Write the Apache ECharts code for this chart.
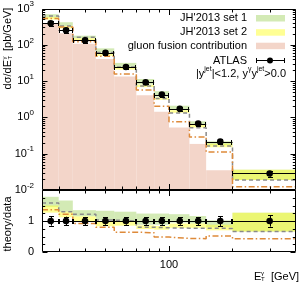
<!DOCTYPE html>
<html><head><meta charset="utf-8">
<script src="https://cdn.jsdelivr.net/npm/echarts@6/dist/echarts.min.js"></script>
<style>html,body{margin:0;padding:0;background:#fff}#c{width:300px;height:282px}</style>
</head><body><div id="c"></div>
<script>
// ---------------- data ----------------
const binEdges   = [25, 30, 35, 45, 55, 70, 85, 100, 125, 150, 200, 400];
const atlasXsec  = [391, 252, 132, 60, 24.4, 9.2, 4.25, 1.72, 0.675, 0.215, 0.0285];
const atlasRelErr= [0.15, 0.14, 0.13, 0.12, 0.12, 0.12, 0.12, 0.12, 0.13, 0.16, 0.18];
const set1RatioHi= [1.78, 1.66, 1.35, 1.33, 1.30, 1.24, 1.24, 1.22, 1.16, 1.02, 1.27];
const set1RatioLo= [1.45, 1.30, 1.15, 1.02, 1.00, 0.88, 0.88, 0.95, 0.92, 0.80, 0.66];
const set2RatioHi= [1.50, 1.30, 1.15, 1.00, 1.00, 0.86, 0.84, 0.92, 0.92, 0.88, 1.27];
const set2RatioLo= [1.27, 1.12, 0.98, 0.83, 0.85, 0.74, 0.72, 0.78, 0.78, 0.70, 0.66];
const grayRatio  = [1.58, 1.30, 1.22, 1.03, 1.00, 0.80, 0.78, 0.77, 0.77, 0.76, 0.66];
const orangeRatio= [1.36, 1.22, 0.92, 0.80, 0.64, 0.62, 0.48, 0.44, 0.43, 0.52, 0.43];
const gluonFusion= [398, 209, 107, 40.5, 13.3, 4.06, 1.43, 0.525, 0.186, 0.035, null];

const xMajorTicks = [100];
const xMinorTicks = [30, 40, 50, 60, 70, 80, 90, 200, 300];
const xLabelValues = [100];
const yMainMajorTicks = [0.01, 0.1, 1, 10, 100, 1000];
const yMainMinorMult = [2, 3, 4, 5, 6, 7, 8, 9];
const yRatioMajorTicks = [0, 1, 2];
const yRatioMinorTicks = [0.25, 0.5, 0.75, 1.25, 1.5, 1.75];
const yRatioLabels = [0, 1];

const X_MIN = 25, X_MAX = 400, Y_MIN = 0.01, Y_MAX = 1000, R_MIN = 0, R_MAX = 2;
const FONT = "'Liberation Sans', Arial, Helvetica, sans-serif";
const GREEN = 'rgba(168, 214, 108, 0.5)';
const YELLOW = 'rgba(255, 255, 60, 0.55)';
const PINK = '#f3d5c9';
const GRAY = '#8a8a8a';
const ORANGE = '#de8a3a';

const yMainMinorTicks = [];
yMainMajorTicks.slice(0, -1).forEach(d => yMainMinorMult.forEach(m => yMainMinorTicks.push(d * m)));

// ---------------- helpers ----------------
const nb = atlasXsec.length;
const centers = atlasXsec.map((_, i) => (binEdges[i] + binEdges[i + 1]) / 2);
const crisp = v => Math.round(v) + 0.5;

function bandData(lo, hi, scale) {
  return lo.map((_, i) => [binEdges[i], binEdges[i + 1], lo[i] * (scale ? scale[i] : 1), hi[i] * (scale ? scale[i] : 1)]);
}
function stepData(vals, scale) {
  const d = vals.map((v, i) => [binEdges[i], v * (scale ? scale[i] : 1)]);
  d.push([binEdges[nb], vals[nb - 1] * (scale ? scale[nb - 1] : 1)]);
  return d;
}
function rectItem(color) {
  return function (params, api) {
    const p0 = api.coord([api.value(0), api.value(3)]);
    const p1 = api.coord([api.value(1), api.value(2)]);
    return { type: 'rect', shape: { x: p0[0], y: p0[1], width: p1[0] - p0[0], height: p1[1] - p0[1] },
             style: { fill: color } };
  };
}
function pointItem(params, api) {
  const xc = api.value(0), y = api.value(1), ylo = api.value(2), yhi = api.value(3), xl = api.value(4), xh = api.value(5);
  const c = api.coord([xc, y]);
  const l = api.coord([xl, y]), h = api.coord([xh, y]);
  const lo = api.coord([xc, ylo]), hi = api.coord([xc, yhi]);
  const yy = crisp(c[1]), xx = crisp(c[0]);
  const st = { stroke: '#000', lineWidth: 1 };
  return { type: 'group', children: [
    { type: 'line', shape: { x1: l[0], y1: yy, x2: h[0], y2: yy }, style: st },
    { type: 'line', shape: { x1: crisp(l[0]), y1: yy - 2.5, x2: crisp(l[0]), y2: yy + 2.5 }, style: st },
    { type: 'line', shape: { x1: crisp(h[0] - 1), y1: yy - 2.5, x2: crisp(h[0] - 1), y2: yy + 2.5 }, style: st },
    { type: 'line', shape: { x1: xx, y1: lo[1], x2: xx, y2: hi[1] }, style: st },
    { type: 'line', shape: { x1: xx - 2.5, y1: crisp(lo[1]), x2: xx + 2.5, y2: crisp(lo[1]) }, style: st },
    { type: 'line', shape: { x1: xx - 2.5, y1: crisp(hi[1]), x2: xx + 2.5, y2: crisp(hi[1]) }, style: st },
    { type: 'circle', shape: { cx: c[0], cy: c[1], r: 3.3 }, style: { fill: '#000' } }
  ] };
}
function frameItem(yMin, yMax, yMajor, yMinor) {
  return function (params, api) {
    const a = api.coord([X_MIN, yMin]), b = api.coord([X_MAX, yMax]);
    const xl = crisp(a[0]), xr = crisp(b[0] - 1), yb = crisp(a[1] - 1), yt = crisp(b[1]);
    const st = { stroke: '#000', lineWidth: 1 };
    const ch = [{ type: 'rect', shape: { x: xl, y: yt, width: xr - xl, height: yb - yt }, style: { fill: 'none', stroke: '#000', lineWidth: 1 } }];
    const xt = (v, len) => {
      const px = crisp(api.coord([v, yMin])[0]);
      ch.push({ type: 'line', shape: { x1: px, y1: yb, x2: px, y2: yb - len }, style: st });
      ch.push({ type: 'line', shape: { x1: px, y1: yt, x2: px, y2: yt + len }, style: st });
    };
    const ytk = (v, len) => {
      const py = crisp(api.coord([X_MIN, v])[1]);
      ch.push({ type: 'line', shape: { x1: xl, y1: py, x2: xl + len, y2: py }, style: st });
      ch.push({ type: 'line', shape: { x1: xr, y1: py, x2: xr - len, y2: py }, style: st });
    };
    xMajorTicks.forEach(v => xt(v, 5.5));
    xMinorTicks.forEach(v => xt(v, 3));
    yMajor.forEach(v => ytk(v, 5));
    yMinor.forEach(v => ytk(v, 2.7));
    return { type: 'group', children: ch };
  };
}

const mainPts = atlasXsec.map((v, i) => [centers[i], v, v * (1 - atlasRelErr[i]), v * (1 + atlasRelErr[i]), binEdges[i], binEdges[i + 1]]);
const ratioPts = atlasXsec.map((v, i) => [centers[i], 1, 1 - atlasRelErr[i], 1 + atlasRelErr[i], binEdges[i], binEdges[i + 1]]);
const gluonData = gluonFusion.map((v, i) => v == null ? null : [binEdges[i], binEdges[i + 1], Y_MIN, v]).filter(d => d);

const lineSeries = (xi, data, color, type, z) => ({
  type: 'line', xAxisIndex: xi, yAxisIndex: xi, data, step: 'end', symbol: 'none', silent: true, z,
  lineStyle: { color, width: 1.5, type }, animation: false
});
const customSeries = (xi, data, renderItem, z, enc) => ({
  type: 'custom', xAxisIndex: xi, yAxisIndex: xi, data, renderItem, z, silent: true, animation: false,
  encode: enc || { x: 0, y: 1 }
});

const chart = echarts.init(document.getElementById('c'), null, { renderer: 'canvas' });
chart.setOption({
  animation: false,
  backgroundColor: '#fff',
  grid: [
    { left: 42, right: 4, top: 6, height: 184, show: false },
    { left: 42, right: 4, top: 190, height: 62, show: false }
  ],
  xAxis: [
    { gridIndex: 0, type: 'log', logBase: 10, min: X_MIN, max: X_MAX,
      axisLine: { show: false }, axisTick: { show: false }, axisLabel: { show: false }, splitLine: { show: false } },
    { gridIndex: 1, type: 'log', logBase: 10, min: X_MIN, max: X_MAX,
      axisLine: { show: false }, axisTick: { show: false }, splitLine: { show: false },
      axisLabel: { show: true, margin: 7, fontSize: 11, fontFamily: FONT, color: '#000', showMinLabel: false, showMaxLabel: false,
        formatter: v => xLabelValues.some(t => Math.abs(v - t) < 1e-6) ? String(Math.round(v)) : '' } }
  ],
  yAxis: [
    { gridIndex: 0, type: 'log', logBase: 10, min: Y_MIN, max: Y_MAX,
      axisLine: { show: false }, axisTick: { show: false }, splitLine: { show: false },
      axisLabel: { margin: 8, color: '#000',
        formatter: v => '{b|10}{s|' + Math.round(Math.log10(v)) + '}',
        rich: { b: { fontSize: 11, fontFamily: FONT, color: '#000', lineHeight: 17 },
                s: { fontSize: 8, fontFamily: FONT, color: '#000', lineHeight: 9, verticalAlign: 'top' } } } },
    { gridIndex: 1, type: 'value', min: R_MIN, max: R_MAX, interval: 1,
      axisLine: { show: false }, axisTick: { show: false }, splitLine: { show: false },
      axisLabel: { margin: 8, fontSize: 11, fontFamily: FONT, color: '#000',
        formatter: v => yRatioLabels.indexOf(v) >= 0 ? String(v) : '' } }
  ],
  series: [
    // main panel
    customSeries(0, gluonData, rectItem(PINK), 1, { x: [0, 1], y: [2, 3] }),
    customSeries(0, bandData(set1RatioLo, set1RatioHi, atlasXsec), rectItem(GREEN), 2, { x: [0, 1], y: [2, 3] }),
    customSeries(0, bandData(set2RatioLo, set2RatioHi, atlasXsec), rectItem(YELLOW), 2, { x: [0, 1], y: [2, 3] }),
    lineSeries(0, stepData(grayRatio, atlasXsec), GRAY, [4, 3], 3),
    lineSeries(0, stepData(orangeRatio, atlasXsec), ORANGE, [6, 2.5, 1.5, 2.5], 3),
    customSeries(0, mainPts, pointItem, 5),
    customSeries(0, [[X_MIN, Y_MIN]], frameItem(Y_MIN, Y_MAX, yMainMajorTicks, yMainMinorTicks), 6),
    // ratio panel
    customSeries(1, bandData(set1RatioLo, set1RatioHi), rectItem(GREEN), 2, { x: [0, 1], y: [2, 3] }),
    customSeries(1, bandData(set2RatioLo, set2RatioHi), rectItem(YELLOW), 2, { x: [0, 1], y: [2, 3] }),
    lineSeries(1, stepData(grayRatio), GRAY, [4, 3], 3),
    lineSeries(1, stepData(orangeRatio), ORANGE, [6, 2.5, 1.5, 2.5], 3),
    customSeries(1, ratioPts, pointItem, 5),
    customSeries(1, [[X_MIN, R_MIN]], frameItem(R_MIN, R_MAX, yRatioMajorTicks, yRatioMinorTicks), 6)
  ],
  graphic: [
    // legend
    { type: 'text', x: 247, y: 18, style: { text: "JH'2013 set 1", font: '11px ' + FONT, fill: '#000', align: 'right', textAlign: 'right', verticalAlign: 'middle', textVerticalAlign: 'middle' } },
    { type: 'rect', shape: { x: 256, y: 15, width: 29, height: 6.5 }, style: { fill: GREEN } },
    { type: 'text', x: 247, y: 32.3, style: { text: "JH'2013 set 2", font: '11px ' + FONT, fill: '#000', align: 'right', textAlign: 'right', verticalAlign: 'middle', textVerticalAlign: 'middle' } },
    { type: 'rect', shape: { x: 256, y: 29.2, width: 29, height: 6.5 }, style: { fill: YELLOW } },
    { type: 'text', x: 247, y: 46.3, style: { text: 'gluon fusion contribution', font: '11px ' + FONT, fill: '#000', align: 'right', textAlign: 'right', verticalAlign: 'middle', textVerticalAlign: 'middle' } },
    { type: 'rect', shape: { x: 256, y: 42.7, width: 29, height: 6.5 }, style: { fill: PINK } },
    { type: 'text', x: 247, y: 60.5, style: { text: 'ATLAS', font: '11px ' + FONT, fill: '#000', align: 'right', textAlign: 'right', verticalAlign: 'middle', textVerticalAlign: 'middle' } },
    { type: 'line', shape: { x1: 256, y1: 60.5, x2: 285, y2: 60.5 }, style: { stroke: '#000', lineWidth: 1 } },
    { type: 'line', shape: { x1: 256.5, y1: 58, x2: 256.5, y2: 63 }, style: { stroke: '#000', lineWidth: 1 } },
    { type: 'line', shape: { x1: 284.5, y1: 58, x2: 284.5, y2: 63 }, style: { stroke: '#000', lineWidth: 1 } },
    { type: 'circle', shape: { cx: 270, cy: 60.5, r: 3 }, style: { fill: '#000' } },
    { type: 'text', x: 286, y: 73.5, style: { text: '{n||y}{s|jet}{n||<1.2, y}{s|γ}{n|y}{s|jet}{n|>0.0}', align: 'right', textAlign: 'right', verticalAlign: 'middle', textVerticalAlign: 'middle',
        rich: { n: { fontSize: 11, fontFamily: FONT, fill: '#000', color: '#000', lineHeight: 15 },
                s: { fontSize: 7, fontFamily: FONT, fill: '#000', color: '#000', lineHeight: 8, verticalAlign: 'top' } } } },
    // y title main (rotated)
    { type: 'group', x: 7.5, y: 48, rotation: Math.PI / 2, children: [
      { type: 'text', x: -12, y: 0, style: { text: 'dσ/dE', font: '11px ' + FONT, fill: '#000', align: 'right', textAlign: 'right', verticalAlign: 'middle', textVerticalAlign: 'middle' } },
      { type: 'text', x: -11.5, y: -3.5, style: { text: 'γ', font: '6px ' + FONT, fill: '#000', align: 'left', textAlign: 'left', verticalAlign: 'middle', textVerticalAlign: 'middle' } },
      { type: 'text', x: -11.5, y: 3.2, style: { text: 'T', font: '6px ' + FONT, fill: '#000', align: 'left', textAlign: 'left', verticalAlign: 'middle', textVerticalAlign: 'middle' } },
      { type: 'text', x: -3, y: 0, style: { text: '[pb/GeV]', font: '11px ' + FONT, fill: '#000', align: 'left', textAlign: 'left', verticalAlign: 'middle', textVerticalAlign: 'middle' } }
    ] },
    // y title ratio (rotated)
    { type: 'group', x: 7.5, y: 224, rotation: Math.PI / 2, children: [
      { type: 'text', x: 0, y: 0, style: { text: 'theory/data', font: '11px ' + FONT, fill: '#000', align: 'center', textAlign: 'center', verticalAlign: 'middle', textVerticalAlign: 'middle' } }
    ] },
    // x title
    { type: 'text', x: 254, y: 276.5, style: { text: 'E', font: '11px ' + FONT, fill: '#000', align: 'left', textAlign: 'left', verticalAlign: 'middle', textVerticalAlign: 'middle' } },
    { type: 'text', x: 261, y: 273, style: { text: 'γ', font: '6px ' + FONT, fill: '#000', align: 'left', textAlign: 'left', verticalAlign: 'middle', textVerticalAlign: 'middle' } },
    { type: 'text', x: 261, y: 279.5, style: { text: 'T', font: '6px ' + FONT, fill: '#000', align: 'left', textAlign: 'left', verticalAlign: 'middle', textVerticalAlign: 'middle' } },
    { type: 'text', x: 271, y: 276.5, style: { text: '[GeV]', font: '11px ' + FONT, fill: '#000', align: 'left', textAlign: 'left', verticalAlign: 'middle', textVerticalAlign: 'middle' } }
  ]
});
</script>
</body></html>
